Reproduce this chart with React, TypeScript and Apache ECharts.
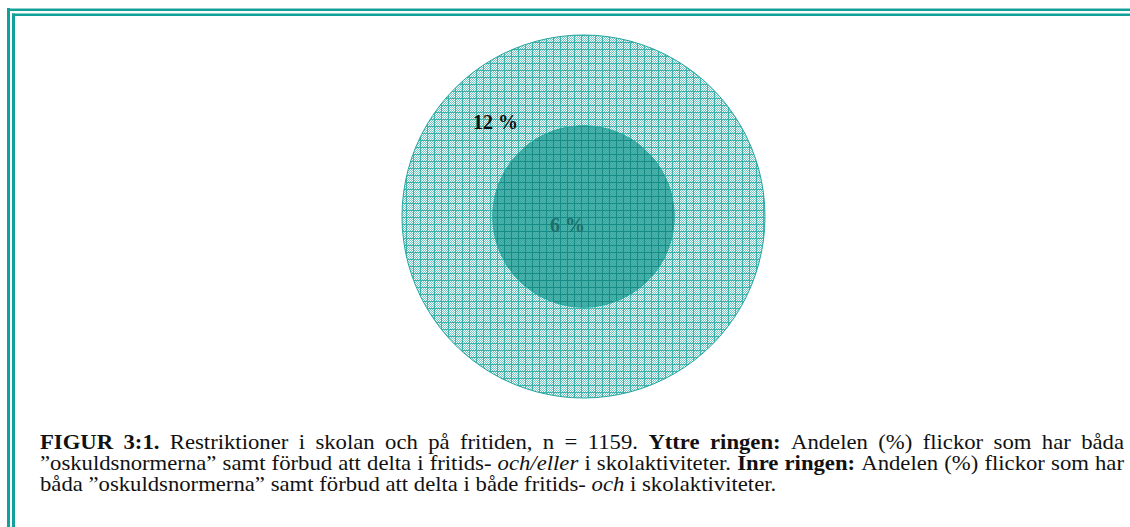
import React, { useEffect, useRef } from "react";
import * as echarts from "echarts";

// ---- data ----
const rings = ["Yttre ringen", "Inre ringen"];
const shares = [12, 6]; // percent
const labelSuffix = " %";

type Seg = [string, "b" | "n" | "i"];
const captionLines: Seg[][] = [
  [
    ["FIGUR 3:1.", "b"],
    ["Restriktioner i skolan och på fritiden, n = 1159.", "n"],
    ["Yttre ringen:", "b"],
    ["Andelen (%) flickor som har båda", "n"],
  ],
  [
    ["”oskuldsnormerna” samt förbud att delta i fritids-", "n"],
    ["och/eller", "i"],
    ["i skolaktiviteter.", "n"],
    ["Inre ringen:", "b"],
    ["Andelen (%) flickor som har", "n"],
  ],
  [
    ["båda ”oskuldsnormerna” samt förbud att delta i både fritids-", "n"],
    ["och", "i"],
    ["i skolaktiviteter.", "n"],
  ],
];
const justified = [true, true, false];

// ---- style ----
const TEAL = "#12a19a";
const SERIF = '"Liberation Serif", "Times New Roman", serif';
const CAP_SIZE = 20;
const CAP_SX = 1.135;
const CAP_LEFT = 40;
const CAP_RIGHT = 1124;
const CAP_BASE = 449;
const CAP_LH = 21;
const PX_PER_PCT = 15.125; // radius in px per percent
const CENTER = [583.5, 216.5];
const TILE = 7;

function makeTile(line: string, a: string, b: string, size = TILE) {
  const c = document.createElement("canvas");
  c.width = size;
  c.height = size;
  const ctx = c.getContext("2d")!;
  for (let y = 0; y < size; y++) {
    for (let x = 0; x < size; x++) {
      ctx.fillStyle = x === 0 || y === 0 ? line : (x + y) % 2 ? a : b;
      ctx.fillRect(x, y, 1, 1);
    }
  }
  return c.toDataURL();
}

function fontOf(s: "b" | "n" | "i") {
  return `${s === "i" ? "italic " : ""}${s === "b" ? "bold " : ""}${CAP_SIZE}px ${SERIF}`;
}

function buildCaption() {
  const cv = document.createElement("canvas");
  const ctx = cv.getContext("2d")!;
  const els: any[] = [];
  captionLines.forEach((line, li) => {
    const words: { t: string; s: "b" | "n" | "i"; w: number }[] = [];
    line.forEach(([txt, s]) => {
      ctx.font = fontOf(s);
      txt.split(" ").forEach((t) => words.push({ t, s, w: ctx.measureText(t).width * CAP_SX }));
    });
    const total = words.reduce((acc, w) => acc + w.w, 0);
    ctx.font = fontOf("n");
    const space = ctx.measureText(" ").width * CAP_SX;
    const gap = justified[li] ? (CAP_RIGHT - CAP_LEFT - total) / (words.length - 1) : space;
    let x = CAP_LEFT;
    const baseline = CAP_BASE + li * CAP_LH;
    words.forEach((w) => {
      els.push({
        type: "text",
        x,
        y: baseline - 0.3375 * CAP_SIZE,
        scaleX: CAP_SX,
        silent: true,
        style: {
          text: w.t,
          fontFamily: SERIF,
          fontSize: CAP_SIZE,
          fontWeight: w.s === "b" ? "bold" : "normal",
          fontStyle: w.s === "i" ? "italic" : "normal",
          fill: "#111",
          verticalAlign: "middle",
          align: "left",
        },
      });
      x += w.w + gap;
    });
  });
  return els;
}

export default function App() {
  const ref = useRef<HTMLDivElement>(null);
  useEffect(() => {
    if (!ref.current) return;
    const chart = echarts.init(ref.current, undefined, { renderer: "svg" });
    const outerTile = makeTile("#3cb2ac", "#ffffff", "#6ec8c3");
    const innerTile = makeTile("#168c86", "#4db4ae", "#39a6a0");
    const fills = [outerTile, innerTile];
    const labelColors = ["#111111", "#1c6f6b"];
    const labelOffsets = [
      [-88, -95],
      [-16, 8],
    ];
    const border = [
      { type: "rect", shape: { x: 7, y: 8, width: 1123, height: 1 }, style: { fill: "#8fd2ce" }, silent: true },
      { type: "rect", shape: { x: 7, y: 9, width: 1123, height: 2 }, style: { fill: TEAL }, silent: true },
      { type: "rect", shape: { x: 7, y: 8, width: 3, height: 519 }, style: { fill: TEAL }, silent: true },
      { type: "rect", shape: { x: 12, y: 13.5, width: 1118, height: 2.5 }, style: { fill: TEAL }, silent: true },
      { type: "rect", shape: { x: 12, y: 13.5, width: 3, height: 514 }, style: { fill: TEAL }, silent: true },
    ];
    chart.setOption({
      animation: false,
      backgroundColor: "#ffffff",
      series: rings.map((name, i) => ({
        type: "pie",
        name,
        silent: true,
        center: CENTER,
        radius: [0, shares[i] * PX_PER_PCT],
        z: 2 + i,
        data: [{ name, value: shares[i] }],
        itemStyle: {
          color: { image: fills[i], repeat: "repeat", imageWidth: TILE, imageHeight: TILE },
          borderColor: "#22a59d",
          borderWidth: 1,
        },
        label: {
          show: true,
          position: "center",
          formatter: (p: any) => `${p.value}${labelSuffix}`,
          fontFamily: SERIF,
          fontWeight: "bold",
          fontSize: 20,
          color: labelColors[i],
        },
        labelLine: { show: false },
        labelLayout: { dx: labelOffsets[i][0], dy: labelOffsets[i][1] },
        emphasis: { disabled: true, scale: false },
      })),
      graphic: [...border, ...buildCaption()],
    });
    return () => chart.dispose();
  }, []);
  return (
    <div
      ref={ref}
      style={{ position: "absolute", left: 0, top: 0, width: 1130, height: 527, background: "#fff" }}
    />
  );
}
